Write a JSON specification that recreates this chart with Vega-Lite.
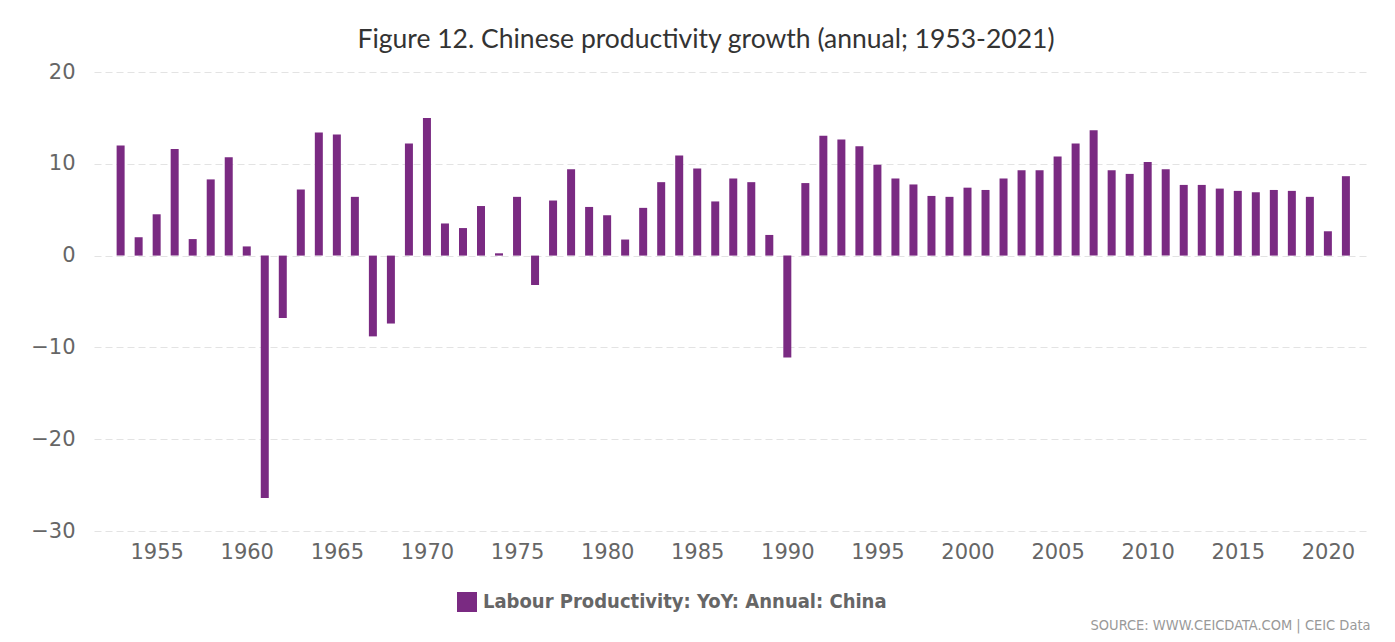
{
  "$schema": "https://vega.github.io/schema/vega-lite/v6.json",
  "width": 1276,
  "height": 459,
  "autosize": {"type": "none"},
  "padding": {"left": 94, "top": 72, "right": 25, "bottom": 111},
  "background": "white",
  "title": {
    "text": "Figure 12. Chinese productivity growth (annual; 1953-2021)",
    "font": "Lato",
    "fontSize": 26.5,
    "fontWeight": "normal",
    "color": "#333333",
    "anchor": "middle",
    "frame": "group",
    "baseline": "bottom",
    "offset": -19,
    "dx": -26
  },
  "data": {
    "values": [
      {"year": 1953, "value": 12.0}, {"year": 1954, "value": 2.0}, {"year": 1955, "value": 4.5},
      {"year": 1956, "value": 11.6}, {"year": 1957, "value": 1.8}, {"year": 1958, "value": 8.3},
      {"year": 1959, "value": 10.7}, {"year": 1960, "value": 1.0}, {"year": 1961, "value": -26.4},
      {"year": 1962, "value": -6.8}, {"year": 1963, "value": 7.2}, {"year": 1964, "value": 13.4},
      {"year": 1965, "value": 13.2}, {"year": 1966, "value": 6.4}, {"year": 1967, "value": -8.8},
      {"year": 1968, "value": -7.4}, {"year": 1969, "value": 12.2}, {"year": 1970, "value": 15.0},
      {"year": 1971, "value": 3.5}, {"year": 1972, "value": 3.0}, {"year": 1973, "value": 5.4},
      {"year": 1974, "value": 0.25}, {"year": 1975, "value": 6.4}, {"year": 1976, "value": -3.2},
      {"year": 1977, "value": 6.0}, {"year": 1978, "value": 9.4}, {"year": 1979, "value": 5.3},
      {"year": 1980, "value": 4.4}, {"year": 1981, "value": 1.75}, {"year": 1982, "value": 5.2},
      {"year": 1983, "value": 8.0}, {"year": 1984, "value": 10.9}, {"year": 1985, "value": 9.5},
      {"year": 1986, "value": 5.9}, {"year": 1987, "value": 8.4}, {"year": 1988, "value": 8.0},
      {"year": 1989, "value": 2.25}, {"year": 1990, "value": -11.1}, {"year": 1991, "value": 7.9},
      {"year": 1992, "value": 13.05}, {"year": 1993, "value": 12.65}, {"year": 1994, "value": 11.9},
      {"year": 1995, "value": 9.9}, {"year": 1996, "value": 8.4}, {"year": 1997, "value": 7.75},
      {"year": 1998, "value": 6.5}, {"year": 1999, "value": 6.4}, {"year": 2000, "value": 7.4},
      {"year": 2001, "value": 7.15}, {"year": 2002, "value": 8.4}, {"year": 2003, "value": 9.3},
      {"year": 2004, "value": 9.3}, {"year": 2005, "value": 10.8}, {"year": 2006, "value": 12.2},
      {"year": 2007, "value": 13.65}, {"year": 2008, "value": 9.3}, {"year": 2009, "value": 8.9},
      {"year": 2010, "value": 10.2}, {"year": 2011, "value": 9.4}, {"year": 2012, "value": 7.7},
      {"year": 2013, "value": 7.7}, {"year": 2014, "value": 7.3}, {"year": 2015, "value": 7.05},
      {"year": 2016, "value": 6.9}, {"year": 2017, "value": 7.15}, {"year": 2018, "value": 7.05},
      {"year": 2019, "value": 6.4}, {"year": 2020, "value": 2.65}, {"year": 2021, "value": 8.65}
    ]
  },
  "mark": {"type": "bar", "width": 8},
  "encoding": {
    "x": {
      "field": "year",
      "type": "quantitative",
      "scale": {"domain": [1951.8, 2022.06], "nice": false, "zero": false},
      "axis": {
        "values": [1955, 1960, 1965, 1970, 1975, 1980, 1985, 1990, 1995, 2000, 2005, 2010, 2015, 2020],
        "format": "d",
        "grid": false,
        "ticks": false,
        "domain": false,
        "labelFont": "DejaVu Sans",
        "labelFontSize": 21,
        "labelColor": "#666666",
        "labelPadding": 10,
        "title": "SOURCE: WWW.CEICDATA.COM | CEIC Data",
        "titleFont": "DejaVu Sans Condensed, DejaVu Sans",
        "titleFontSize": 14.5,
        "titleFontWeight": "normal",
        "titleColor": "#999999",
        "titleAnchor": "end",
        "titleAlign": "right",
        "titleBaseline": "middle",
        "titleY": 94
      }
    },
    "y": {
      "field": "value",
      "type": "quantitative",
      "scale": {"domain": [-30, 20], "nice": false},
      "axis": {
        "values": [-30, -20, -10, 0, 10, 20],
        "title": null,
        "grid": true,
        "gridColor": "#e3e3e3",
        "gridDash": [7, 4],
        "gridWidth": 1,
        "ticks": false,
        "domain": false,
        "labelFont": "DejaVu Sans",
        "labelFontSize": 21,
        "labelColor": "#666666",
        "labelPadding": 19
      }
    },
    "color": {
      "datum": "Labour Productivity: YoY: Annual: China",
      "type": "nominal",
      "scale": {"range": ["#7A2A82"]},
      "legend": {
        "title": null,
        "orient": "none",
        "legendX": 363,
        "legendY": 520,
        "padding": 0,
        "symbolType": "square",
        "symbolSize": 400,
        "symbolOpacity": 1,
        "symbolStrokeWidth": 0,
        "labelFont": "DejaVu Sans Condensed, DejaVu Sans",
        "labelFontSize": 20,
        "labelFontWeight": "bold",
        "labelColor": "#666666",
        "labelOffset": 6,
        "labelLimit": 0
      }
    }
  },
  "config": {
    "view": {"stroke": null}
  }
}
